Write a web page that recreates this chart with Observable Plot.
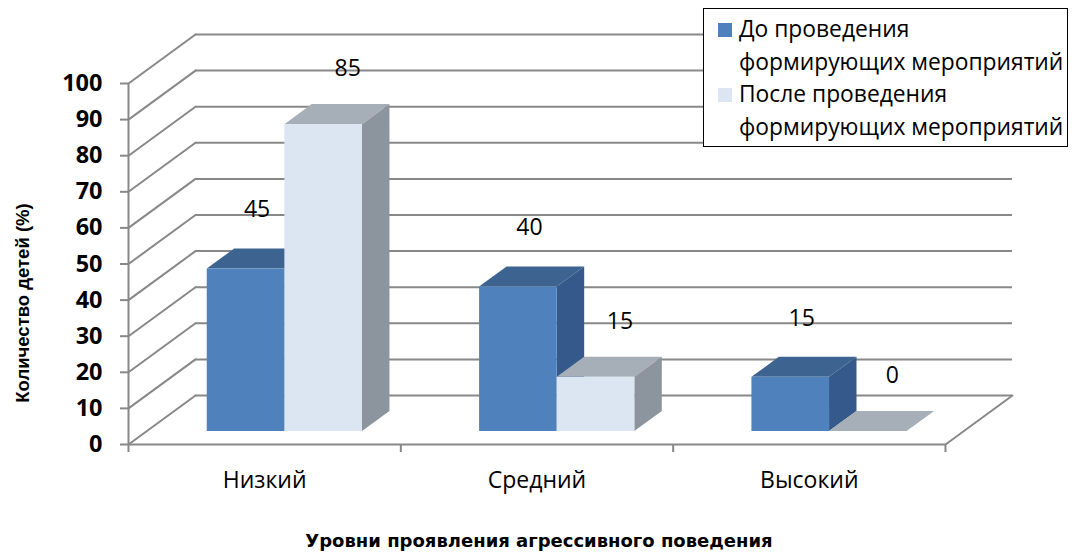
<!DOCTYPE html>
<html>
<head>
<meta charset="utf-8">
<script src="https://cdn.jsdelivr.net/npm/d3@7"></script>
<script src="https://cdn.jsdelivr.net/npm/@observablehq/plot@0.6"></script>
<style>
  html, body { margin: 0; padding: 0; background: #fff; }
  #wrap { position: relative; width: 1072px; height: 553px; font-family: "Open Sans", sans-serif; }
  #legend { position: absolute; left: 703px; top: 8px; width: 363px; height: 137px; border: 1px solid #000; background: #fff; font-family: "Open Sans", sans-serif; font-size: 22.8px; color: #000; }
  #legend .item { position: relative; padding-left: 35px; line-height: 32.5px; }
  #legend .sw { position: absolute; left: 14px; top: 10px; width: 14px; height: 14px; }
  #legend .items { position: absolute; top: 4px; left: 0; right: 0; }
</style>
</head>
<body>
<div id="wrap"></div>
<script>
// ---- data ----
const categories = ["Низкий", "Средний", "Высокий"];
const before = [45, 40, 15];
const after = [85, 15, 0];
const seriesNames = ["До проведения формирующих мероприятий", "После проведения формирующих мероприятий"];
const yTicks = [0, 10, 20, 30, 40, 50, 60, 70, 80, 90, 100];
const yLabel = "Количество детей (%)";
const xLabel = "Уровни проявления агрессивного поведения";

// ---- style ----
const frontColors = ["#4F81BD", "#DCE6F2"];
const topColors = ["#3D6491", "#A6AFB8"];
const sideColors = ["#34598A", "#8C949D"];
const gridColor = "#888888";

// 3D projection in data units (full depth)
const DX = 0.246;   // x shift of back wall
const DY = 13.57;   // y shift of back wall
const dF = 0.265;   // bar front depth
const dB = 0.675;   // bar back depth
const barStart = 0.224; // in-category start (3D)
const barW = 0.285;

const series = [before, after];
const bars = [];
series.forEach((vals, s) => {
  vals.forEach((v, i) => {
    const xa = i + barStart + s * barW;
    const xb = xa + barW;
    bars.push({s, i, v, xa, xb});
  });
});

function fronts(s) {
  return bars.filter(b => b.s === s).map(b => ({
    x1: b.xa + dF * DX, x2: b.xb + dF * DX, y1: dF * DY, y2: b.v + dF * DY
  }));
}
function tops(s) {
  const out = [];
  bars.filter(b => b.s === s).forEach((b, k) => {
    out.push({id: k, y: b.v + dF * DY, x1: b.xa + dF * DX, x2: b.xb + dF * DX});
    out.push({id: k, y: b.v + dB * DY, x1: b.xa + dB * DX, x2: b.xb + dB * DX});
  });
  return out;
}
function sides(s) {
  const out = [];
  bars.filter(b => b.s === s).forEach((b, k) => {
    out.push({id: k, x: b.xb + dF * DX, y1: dF * DY, y2: b.v + dF * DY});
    out.push({id: k, x: b.xb + dB * DX, y1: dB * DY, y2: b.v + dB * DY});
  });
  return out;
}
function labels(s) {
  return bars.filter(b => b.s === s).map(b => ({
    x: (b.xa + b.xb) / 2 + dF * DX, y: b.v + dF * DY, text: String(b.v)
  }));
}

// diagonals of the left wall + right floor edge
const diag = [];
yTicks.forEach(t => {
  diag.push({id: "l" + t, x: 0, y: t});
  diag.push({id: "l" + t, x: DX, y: t + DY});
});
diag.push({id: "r", x: categories.length, y: 0});
diag.push({id: "r", x: categories.length + DX, y: DY});

const faceMarks = [];
[0, 1].forEach(s => {
  faceMarks.push(Plot.areaX(tops(s), {y: "y", x1: "x1", x2: "x2", z: "id", fill: topColors[s]}));
  faceMarks.push(Plot.areaY(sides(s), {x: "x", y1: "y1", y2: "y2", z: "id", fill: sideColors[s]}));
  faceMarks.push(Plot.rect(fronts(s), {x1: "x1", x2: "x2", y1: "y1", y2: "y2", fill: frontColors[s], inset: 0}));
});

const chart = Plot.plot({
  width: 1072,
  height: 553,
  marginLeft: 128,
  marginRight: 127,
  marginTop: 83,
  marginBottom: 109,
  style: {fontFamily: "'Open Sans', sans-serif", background: "transparent", overflow: "visible"},
  x: {domain: [0, categories.length]},
  y: {domain: [0, 100]},
  marks: [
    // back wall grid
    Plot.ruleY(yTicks, {y: d => d + DY, x1: DX, x2: categories.length + DX, stroke: gridColor, strokeWidth: 2}),
    Plot.line(diag, {x: "x", y: "y", z: "id", stroke: gridColor, strokeWidth: 2}),
    // front axes lines
    Plot.ruleY([0], {x1: 0, x2: categories.length, stroke: gridColor, strokeWidth: 2}),
    Plot.ruleX([0], {y1: 0, y2: 100, stroke: gridColor, strokeWidth: 2}),
    Plot.axisY({ticks: yTicks, tickSize: 8, tickPadding: 18, stroke: gridColor, strokeWidth: 2, fill: "#000", fontSize: 23.5, fontWeight: "bold", label: null}),
    Plot.axisX({ticks: [0, 1, 2, 3], tickSize: 8, tickFormat: () => "", stroke: gridColor, strokeWidth: 2, label: null}),
    Plot.axisX({ticks: [0.5, 1.5, 2.5], tickSize: 0, tickPadding: 27, tickFormat: d => categories[Math.floor(d)], fill: "#000", fontSize: 23, label: null}),
    ...faceMarks,
    Plot.text(labels(0), {x: "x", y: "y", text: "text", dx: 11, dy: -59, fontSize: 23, fill: "#000"}),
    Plot.text(labels(1), {x: "x", y: "y", text: "text", dx: 24, dy: -56, fontSize: 23, fill: "#000"}),
    Plot.text([yLabel], {frameAnchor: "left", textAnchor: "middle", rotate: -90, dx: -105, dy: 39, fontSize: 18.5, fontWeight: "bold", fill: "#000", fontFamily: "'Liberation Sans', Arial, sans-serif"}),
    Plot.text([xLabel], {frameAnchor: "bottom", dy: 102, dx: 2, fontSize: 18, fontWeight: "bold", fill: "#000", fontFamily: "'DejaVu Sans', sans-serif"})
  ]
});

const wrap = document.getElementById("wrap");
wrap.appendChild(chart);

const legend = document.createElement("div");
legend.id = "legend";
const items = document.createElement("div");
items.className = "items";
seriesNames.forEach((name, s) => {
  const words = name.split(" ");
  const item = document.createElement("div");
  item.className = "item";
  const sw = document.createElement("span");
  sw.className = "sw";
  sw.style.background = frontColors[s];
  item.appendChild(sw);
  const l1 = document.createElement("div");
  l1.textContent = words.slice(0, 2).join(" ");
  const l2 = document.createElement("div");
  l2.textContent = words.slice(2).join(" ");
  item.appendChild(l1);
  item.appendChild(l2);
  items.appendChild(item);
});
legend.appendChild(items);
wrap.appendChild(legend);
</script>
</body>
</html>
